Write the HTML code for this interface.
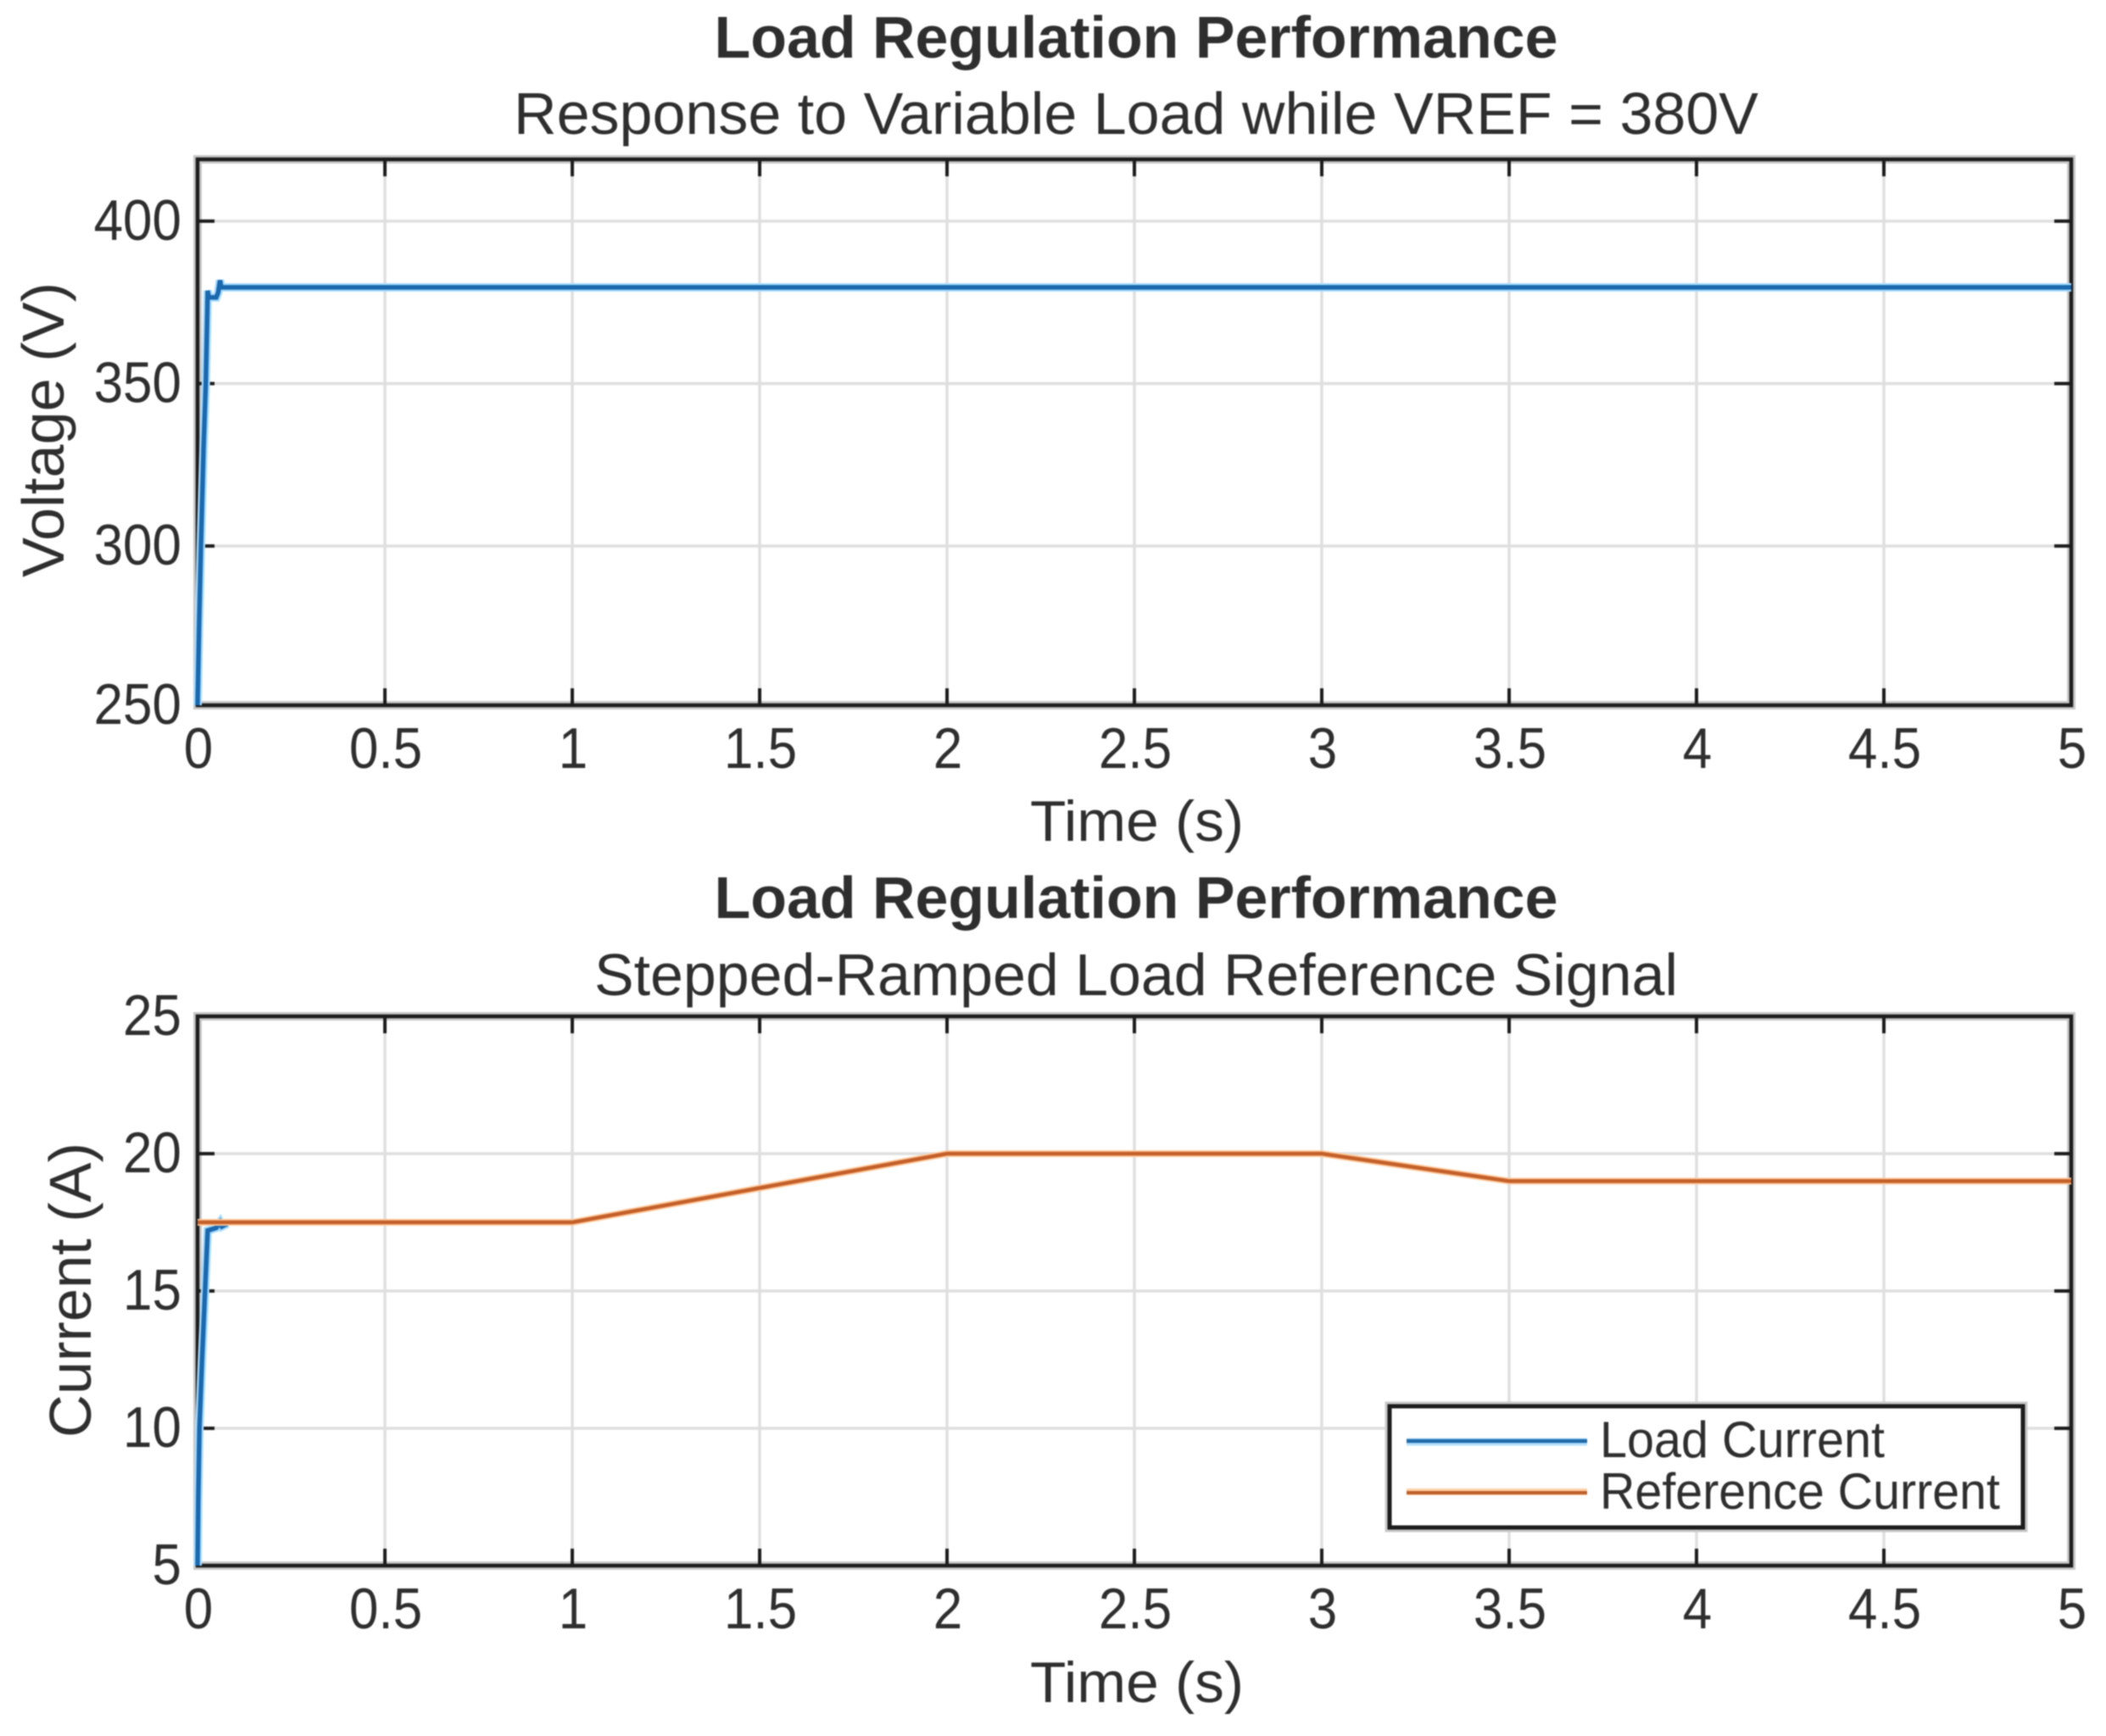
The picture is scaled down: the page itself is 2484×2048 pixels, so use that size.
<!DOCTYPE html>
<html>
<head>
<meta charset="utf-8">
<title>Load Regulation Performance</title>
<style>
html,body{margin:0;padding:0;background:#fff;width:2484px;height:2048px;overflow:hidden}
svg{display:block;filter:blur(0.9px)}
text{font-family:"Liberation Sans",Arial,sans-serif;fill:#2e2e2e}
</style>
</head>
<body>
<svg id="figure" xmlns="http://www.w3.org/2000/svg" width="2484" height="2048" viewBox="0 0 2484 2048">
<rect x="0" y="0" width="2484" height="2048" fill="#fff"/>
<text x="1340" y="68" text-anchor="middle" font-size="70" font-weight="700" textLength="995" lengthAdjust="spacingAndGlyphs">Load Regulation Performance</text>
<text x="1340" y="158" text-anchor="middle" font-size="70" textLength="1468" lengthAdjust="spacingAndGlyphs">Response to Variable Load while VREF = 380V</text>
<text x="1341" y="992" text-anchor="middle" font-size="68" textLength="252" lengthAdjust="spacingAndGlyphs">Time (s)</text>
<text transform="translate(75,507) rotate(-90)" text-anchor="middle" font-size="70" textLength="348" lengthAdjust="spacingAndGlyphs">Voltage (V)</text>
<text x="1340" y="1083" text-anchor="middle" font-size="70" font-weight="700" textLength="995" lengthAdjust="spacingAndGlyphs">Load Regulation Performance</text>
<text x="1340" y="1174" text-anchor="middle" font-size="70" textLength="1278" lengthAdjust="spacingAndGlyphs">Stepped-Ramped Load Reference Signal</text>
<text x="1341" y="2008" text-anchor="middle" font-size="68" textLength="252" lengthAdjust="spacingAndGlyphs">Time (s)</text>
<text transform="translate(107,1522) rotate(-90)" text-anchor="middle" font-size="70" textLength="348" lengthAdjust="spacingAndGlyphs">Current (A)</text>
<g id="top-axes"></g>
<g id="bottom-axes"></g>
<g>
<rect x="1639" y="1659" width="747" height="143" fill="#fff" stroke="#c8c8c8" stroke-width="11"/>
<rect x="1639" y="1659" width="747" height="143" fill="#fff" stroke="#1c1c1c" stroke-width="5"/>
<line x1="1659" y1="1701" x2="1872" y2="1701" stroke="#b4e0ff" stroke-width="9"/>
<line x1="1659" y1="1700" x2="1872" y2="1700" stroke="#1f6aa8" stroke-width="4.5"/>
<line x1="1659" y1="1760" x2="1872" y2="1760" stroke="#ffcfa6" stroke-width="8"/>
<line x1="1659" y1="1761" x2="1872" y2="1761" stroke="#bd5f28" stroke-width="4"/>
<text x="1887" y="1719" font-size="60" textLength="336" lengthAdjust="spacingAndGlyphs">Load Current</text>
<text x="1887" y="1780" font-size="60" textLength="472" lengthAdjust="spacingAndGlyphs">Reference Current</text>
</g>
</svg>
<script>
// Voltage panel data
const voltageTimes = [0, 0.004, 0.009, 0.016, 0.022, 0.026, 0.027, 0.03, 0.05, 0.055, 0.06, 0.063, 5];
const voltageValues = [251, 275, 300, 330, 350, 372, 378.6, 376.5, 376.5, 378, 381.8, 379.6, 379.6];
const voltageTicks = [251, 300, 350, 400];
const voltageTickLabels = ['250', '300', '350', '400'];

// Current panel data
const loadCurrentTimes = [0, 0.002, 0.005, 0.012, 0.02, 0.027, 0.05, 0.06, 0.065, 0.08];
const loadCurrentValues = [5, 7.5, 10, 12.5, 15, 17.2, 17.3, 17.5, 17.35, 17.45];
const referenceTimes = [0, 1, 2, 3, 3.5, 5];
const referenceValues = [17.5, 17.5, 20, 20, 19, 19];
const currentTicks = [5, 10, 15, 20, 25];
const currentTickLabels = ['5', '10', '15', '20', '25'];

// Shared time axis
const timeTicks = [0, 0.5, 1, 1.5, 2, 2.5, 3, 3.5, 4, 4.5, 5];
const timeTickLabels = ['0', '0.5', '1', '1.5', '2', '2.5', '3', '3.5', '4', '4.5', '5'];

const NS = 'http://www.w3.org/2000/svg';
const LEFT = 233, RIGHT = 2443, TICK = 20;

function el(parent, tag, attrs) {
  const node = document.createElementNS(NS, tag);
  for (const k in attrs) node.setAttribute(k, attrs[k]);
  parent.appendChild(node);
  return node;
}

function xScale(t) { return LEFT + (t / 5) * (RIGHT - LEFT); }

function labelWidth(s) {
  return s.split('').reduce((w, c) => w + (c === '.' ? 0.278 : 0.556), 0) * 62;
}

function drawPanel(group, top, bottom, yMin, yMax, yTicks, yLabels, prefix) {
  const yScale = v => bottom - (v - yMin) / (yMax - yMin) * (bottom - top);
  // grid
  timeTicks.forEach(t => {
    if (t === 0 || t === 5) return;
    const g = el(group, 'line', {x1: xScale(t), x2: xScale(t), y1: top, y2: bottom, stroke: '#dfdfdf', 'stroke-width': 3.5});
    
    
  });
  yTicks.forEach(v => {
    if (v === yMin || v === yMax) return;
    const g = el(group, 'line', {x1: LEFT, x2: RIGHT, y1: yScale(v), y2: yScale(v), stroke: '#dfdfdf', 'stroke-width': 3.5});
    
    
  });
  // box
  const halo = el(group, 'rect', {x: LEFT, y: top, width: RIGHT - LEFT, height: bottom - top, fill: 'none', stroke: '#c8c8c8', 'stroke-width': 10});
  
  
  const box = el(group, 'rect', {x: LEFT, y: top, width: RIGHT - LEFT, height: bottom - top, fill: 'none', stroke: '#1c1c1c', 'stroke-width': 4.5});
  
  
  // x ticks
  timeTicks.forEach((t, i) => {
    const x = xScale(t);
    [[bottom, bottom - TICK], [top, top + TICK]].forEach(p => {
      const m = el(group, 'line', {x1: x, x2: x, y1: p[0], y2: p[1], stroke: '#1c1c1c', 'stroke-width': 4});
      
      
    });
    const lab = el(group, 'text', {x: x + 1, y: bottom + 74, 'text-anchor': 'middle', 'font-size': 68, textLength: labelWidth(timeTickLabels[i]), lengthAdjust: 'spacingAndGlyphs'});
    
    
    lab.textContent = timeTickLabels[i];
  });
  // y ticks
  yTicks.forEach((v, i) => {
    const y = yScale(v);
    [[LEFT, LEFT + TICK], [RIGHT, RIGHT - TICK]].forEach(p => {
      const m = el(group, 'line', {x1: p[0], x2: p[1], y1: y, y2: y, stroke: '#1c1c1c', 'stroke-width': 4});
      
      
    });
    const lab = el(group, 'text', {x: 214, y: y + 22, 'text-anchor': 'end', 'font-size': 68, textLength: labelWidth(yLabels[i]), lengthAdjust: 'spacingAndGlyphs'});
    
    
    lab.textContent = yLabels[i];
  });
  return yScale;
}

function drawSeries(group, xs, ys, yScale, color, width) {
  const pts = xs.map((t, i) => xScale(t).toFixed(2) + ',' + yScale(ys[i]).toFixed(2)).join(' ');
  return el(group, 'polyline', {points: pts, fill: 'none', stroke: color, 'stroke-width': width, 'stroke-linejoin': 'miter'});
}

const topGroup = document.getElementById('top-axes');
const bottomGroup = document.getElementById('bottom-axes');

const vScale = drawPanel(topGroup, 188, 832, 251, 419, voltageTicks, voltageTickLabels, 'voltage');
const vHalo = drawSeries(topGroup, voltageTimes, voltageValues, vScale, '#a8dcff', 10);


const vLine = drawSeries(topGroup, voltageTimes, voltageValues, vScale, '#1a68ae', 5.5);



const iScale = drawPanel(bottomGroup, 1199, 1847, 5, 25, currentTicks, currentTickLabels, 'current');
const loadHalo = drawSeries(bottomGroup, loadCurrentTimes, loadCurrentValues, iScale, '#a8dcff', 10);


const loadLine = drawSeries(bottomGroup, loadCurrentTimes, loadCurrentValues, iScale, '#1a68ae', 5.5);


const refHalo = drawSeries(bottomGroup, referenceTimes, referenceValues, iScale, '#ffc89a', 8);


const refLine = drawSeries(bottomGroup, referenceTimes, referenceValues, iScale, '#c4602a', 4.5);


</script>
</body>
</html>
